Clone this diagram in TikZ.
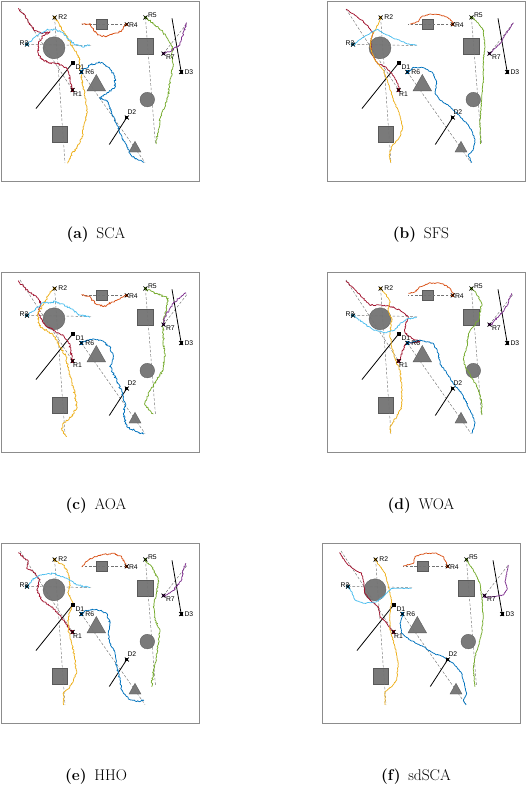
\documentclass[tikz,border=0pt]{standalone}
\usepackage{fontspec}
\newfontfamily\lblfont{Liberation Sans}
\usetikzlibrary{decorations.pathmorphing}
\definecolor{rone}{rgb}{0.635,0.078,0.184}
\definecolor{rtwo}{rgb}{0.929,0.694,0.125}
\definecolor{rthree}{rgb}{0.302,0.745,0.933}
\definecolor{rfour}{rgb}{0.850,0.325,0.098}
\definecolor{rfive}{rgb}{0.466,0.674,0.188}
\definecolor{rsix}{rgb}{0.000,0.447,0.741}
\definecolor{rseven}{rgb}{0.494,0.184,0.556}
\def\wamp{0.6pt}
\tikzset{
  walk/.style={line width=0.75pt, line join=round, decorate, decoration={random steps, segment length=1.1pt, amplitude=\wamp}},
  obst/.style={fill=black!52, draw=black!65, line width=0.35pt},
  refline/.style={black!55, line width=0.45pt, dash pattern=on 2.6pt off 1.8pt},
  dline/.style={black, line width=0.8pt},
  xmark/.style={black, line width=0.7pt},
  lbl/.style={font=\lblfont\fontsize{6.8}{7}\selectfont, inner sep=0pt},
  subcap/.style={font=\fontsize{15.5}{18}\selectfont, anchor=base, inner sep=0pt},
  panelframe/.style={black!45, line width=0.7pt}
}
\newcommand{\taskbase}{%
  \draw[panelframe] (0,0) rectangle (198,180);
  \coordinate (R1) at (71.6,89);
  \coordinate (R2) at (53.6,16.5);
  \coordinate (R3) at (26,43.5);
  \coordinate (R4) at (125.8,23.3);
  \coordinate (R5) at (144.4,16.4);
  \coordinate (R6) at (80.3,71);
  \coordinate (R7) at (162.5,52.6);
  \coordinate (D1) at (71.6,62);
  \coordinate (D2) at (125.8,116.5);
  \coordinate (D3) at (180.2,71);
  \draw[obst] (53,46.8) circle (11);
  \draw[obst] (51,125) rectangle (66.6,140.8);
  \draw[obst] (95.3,73.5) -- (104.6,89.9) -- (86,89.9) -- cycle;
  \draw[obst] (95.35,17.95) rectangle (106.05,28.65);
  \draw[obst] (135.9,36.9) rectangle (151.7,52.7);
  \draw[obst] (146.3,98.6) circle (7.3);
  \draw[obst] (134,140.3) -- (140,151) -- (128,151) -- cycle;
  \draw[refline] (19,8) -- (R1);
  \draw[refline] (R2) -- (64,162);
  \draw[refline] (R3) -- (90,44.5);
  \draw[refline] (R4) -- (81,23.3);
  \draw[refline] (R5) -- (154.5,143);
  \draw[refline] (R6) -- (144,161.5);
  \draw[refline] (R7) -- (186.5,21.7);
  \draw[dline] (D1) -- (35,107.5);
  \draw[dline] (D2) -- (108.3,143.5);
  \draw[dline] (D3) -- (171,17.3);
}
\newcommand{\taskmarks}[1]{%
  \foreach \m/\c in {R1/rone,R2/rtwo,R3/rthree,R4/rfour,R5/rfive,R6/rsix,R7/rseven,D2/black,D3/black}{
    \fill[\c] ([shift={(-1.6,-1.6)}]\m) rectangle ([shift={(1.6,1.6)}]\m);
    \draw[xmark] ([shift={(-2,-2)}]\m) -- ([shift={(2,2)}]\m) ([shift={(-2,2)}]\m) -- ([shift={(2,-2)}]\m);
  }
  \fill ([shift={(-1.9,-1.9)}]D1) rectangle ([shift={(1.9,1.9)}]D1);
  \node[lbl, anchor=west] (#1R1) at (72,93.5) {R1};
  \node[lbl, anchor=west] (#1R2) at (57.2,15.8) {R2};
  \node[lbl, anchor=east] (#1R3) at (27.5,42) {R3};
  \node[lbl, anchor=west] (#1R4) at (127.8,23.8) {R4};
  \node[lbl, anchor=west] (#1R5) at (146.8,13.8) {R5};
  \node[lbl, anchor=west] (#1R6) at (84.2,71.2) {R6};
  \node[lbl, anchor=west] (#1R7) at (164.8,55.8) {R7};
  \node[lbl, anchor=west] (#1D1) at (74.3,66.5) {D1};
  \node[lbl, anchor=west] (#1D2) at (126.3,111.5) {D2};
  \node[lbl, anchor=west] (#1D3) at (183.3,71) {D3};
}
\begin{document}
\begin{tikzpicture}[x=1pt,y=-1pt]
\pgfmathsetseed{11}
\useasboundingbox (0,0) rectangle (527,785);
\begin{scope}[shift={(1,1)}]
  \taskbase
  \def\wamp{0.9pt}
  \begin{scope}[shift={(-1,-1)}, x=0.3333pt, y=-0.3333pt]
    \draw[walk, rone] (55,25) -- (62,35) -- (70,40) -- (78,55) -- (92,75) -- (105,92) -- (125,100) -- (150,96) -- (128,108) -- (116,130) -- (115,160) -- (125,178) -- (150,188) -- (175,192) -- (198,202) -- (206,218) -- (210,242) -- (217,268);
    \draw[walk, rtwo] (163,52) -- (178,75) -- (192,95) -- (205,118) -- (222,148) -- (236,168) -- (240,200) -- (246,240) -- (255,290) -- (262,335) -- (252,375) -- (246,415) -- (232,440) -- (212,468) -- (203,490);
    \draw[walk, rthree] (80,133) -- (98,118) -- (118,100) -- (140,90) -- (165,88) -- (188,98) -- (205,118) -- (222,132) -- (245,140) -- (270,135);
    \draw[walk, rfour] (245,72) -- (272,72) -- (280,90) -- (292,105) -- (320,110) -- (345,100) -- (365,92) -- (380,72);
    \draw[walk, rfive] (436,52) -- (462,72) -- (488,95) -- (502,115) -- (518,140) -- (515,165) -- (520,200) -- (510,240) -- (505,288) -- (495,320) -- (482,350) -- (475,390) -- (468,432);
    \draw[walk, rsix] (243,215) -- (268,196) -- (298,186) -- (328,203) -- (345,230) -- (345,262) -- (300,295) -- (322,302) -- (332,332) -- (350,372) -- (366,410) -- (380,440) -- (396,470) -- (432,487);
    \draw[walk, rseven] (490,160) -- (515,152) -- (540,135) -- (548,108) -- (560,68);
  \end{scope}
  \taskmarks{a}
\end{scope}
\node[subcap] (capa) at (96,238.3) {\textbf{(a)}\hspace{0.5em}SCA};
\begin{scope}[shift={(327,1)}]
  \taskbase
  \def\wamp{0.45pt}
  \begin{scope}[shift={(-7,-1)}, x=0.3333pt, y=-0.3333pt]
    \draw[walk, rone] (78,28) -- (100,42) -- (125,60) -- (145,80) -- (160,100) -- (152,122) -- (155,160) -- (172,190) -- (195,200) -- (215,220) -- (230,245) -- (240,270);
    \draw[walk, rtwo] (185,52) -- (170,80) -- (155,110) -- (150,140) -- (165,180) -- (190,210) -- (205,250) -- (220,300) -- (238,340) -- (248,380) -- (240,410) -- (215,440) -- (208,465) -- (212,488);
    \draw[walk, rthree] (103,133) -- (125,115) -- (150,100) -- (172,88) -- (195,102) -- (215,112) -- (240,122) -- (262,132) -- (290,135);
    \draw[walk, rfour] (270,72) -- (295,65) -- (305,50) -- (330,42) -- (360,45) -- (378,50) -- (388,56) -- (402,70);
    \draw[walk, rfive] (458,52) -- (475,70) -- (490,90) -- (495,140) -- (490,180) -- (490,240) -- (485,300) -- (480,360) -- (480,400) -- (482,432);
    \draw[walk, rsix] (267,216) -- (280,202) -- (310,203) -- (338,218) -- (350,245) -- (345,280) -- (360,300) -- (390,320) -- (420,350) -- (440,370) -- (455,392) -- (465,420) -- (460,450) -- (445,465) -- (455,488);
    \draw[walk, rseven] (512,160) -- (530,140) -- (545,125) -- (555,105) -- (570,85) -- (580,68);
  \end{scope}
  \taskmarks{b}
\end{scope}
\node[subcap] (capb) at (421,238.3) {\textbf{(b)}\hspace{0.5em}SFS};
\begin{scope}[shift={(1,272)}]
  \taskbase
  \def\wamp{1pt}
  \begin{scope}[shift={(-1,-12)}, x=0.3333pt, y=-0.3333pt]
    \draw[walk, rone] (55,62) -- (70,80) -- (90,98) -- (110,110) -- (122,128) -- (116,160) -- (130,190) -- (160,210) -- (190,228) -- (205,245) -- (212,270) -- (217,300);
    \draw[walk, rtwo] (163,85) -- (148,102) -- (135,125) -- (112,165) -- (120,200) -- (160,225) -- (172,245) -- (198,290) -- (205,330) -- (215,362) -- (226,410) -- (230,440) -- (215,470) -- (190,490) -- (185,510) -- (200,530);
    \draw[walk, rthree] (80,168) -- (105,150) -- (125,130) -- (170,125) -- (210,145) -- (240,165) -- (270,172);
    \draw[walk, rfour] (245,103) -- (270,110) -- (285,130) -- (310,140) -- (345,122) -- (365,112) -- (380,105);
    \draw[walk, rfive] (436,88) -- (470,100) -- (505,115) -- (500,140) -- (490,190) -- (490,240) -- (495,280) -- (490,330) -- (470,360) -- (458,382) -- (445,402) -- (435,435) -- (460,462);
    \draw[walk, rsix] (243,250) -- (270,238) -- (300,240) -- (330,260) -- (340,290) -- (330,320) -- (350,360) -- (365,395) -- (376,430) -- (370,460) -- (380,500) -- (410,515) -- (432,522);
    \draw[walk, rseven] (490,195) -- (495,172) -- (510,145) -- (525,126) -- (540,112) -- (558,100);
  \end{scope}
  \taskmarks{c}
\end{scope}
\node[subcap] (capc) at (96,509.6) {\textbf{(c)}\hspace{0.5em}AOA};
\begin{scope}[shift={(327,272)}]
  \taskbase
  \def\wamp{0.7pt}
  \begin{scope}[shift={(-7,-12)}, x=0.3333pt, y=-0.3333pt]
    \draw[walk, rone] (78,62) -- (105,90) -- (130,115) -- (150,135) -- (180,135) -- (215,140) -- (240,150) -- (265,170) -- (255,200) -- (256,220) -- (275,235) -- (300,245) -- (258,250) -- (246,278) -- (240,303);
    \draw[walk, rtwo] (185,88) -- (197,102) -- (210,125) -- (205,150) -- (215,180) -- (210,220) -- (215,260) -- (226,300) -- (240,330) -- (245,380) -- (245,440) -- (230,470) -- (210,500) -- (212,520);
    \draw[walk, rthree] (103,168) -- (130,190) -- (160,210) -- (195,218) -- (225,210) -- (240,190) -- (258,178) -- (290,172);
    \draw[walk, rfour] (265,100) -- (285,96) -- (300,80) -- (330,68) -- (370,72) -- (390,85) -- (402,105);
    \draw[walk, rfive] (458,88) -- (468,98) -- (485,130) -- (476,180) -- (460,200) -- (445,222) -- (440,260) -- (430,300) -- (440,330) -- (460,360) -- (475,390) -- (485,430) -- (485,465);
    \draw[walk, rsix] (267,250) -- (300,240) -- (340,250) -- (355,280) -- (360,310) -- (380,340) -- (400,370) -- (425,400) -- (440,430) -- (455,460) -- (465,490) -- (455,520);
    \draw[walk, rseven] (512,197) -- (522,183) -- (537,168) -- (552,152) -- (562,135) -- (575,100);
  \end{scope}
  \taskmarks{d}
\end{scope}
\node[subcap] (capd) at (421,509.6) {\textbf{(d)}\hspace{0.5em}WOA};
\begin{scope}[shift={(1,543)}]
  \taskbase
  \def\wamp{0.8pt}
  \begin{scope}[shift={(-1,-23)}, x=0.3333pt, y=-0.3333pt]
    \draw[walk, rone] (55,98) -- (75,115) -- (85,125) -- (80,145) -- (100,155) -- (120,180) -- (110,210) -- (125,240) -- (160,265) -- (190,300) -- (210,330) -- (217,337);
    \draw[walk, rtwo] (163,122) -- (190,135) -- (205,160) -- (210,190) -- (205,220) -- (220,250) -- (205,290) -- (205,330) -- (215,370) -- (225,420) -- (230,460) -- (210,500) -- (190,520) -- (190,555);
    \draw[walk, rthree] (80,203) -- (95,180) -- (120,165) -- (160,160) -- (200,175) -- (230,195) -- (270,203);
    \draw[walk, rfour] (245,140) -- (265,120) -- (300,105) -- (340,100) -- (365,110) -- (380,140);
    \draw[walk, rfive] (436,125) -- (455,140) -- (475,180) -- (470,220) -- (460,260) -- (465,300) -- (480,330) -- (475,370) -- (470,410) -- (460,450) -- (455,500);
    \draw[walk, rsix] (243,285) -- (255,272) -- (290,268) -- (320,280) -- (330,310) -- (325,340) -- (330,370) -- (345,400) -- (350,440) -- (360,480) -- (365,510) -- (385,535) -- (410,545) -- (432,540);
    \draw[walk, rseven] (490,230) -- (502,224) -- (518,212) -- (532,198) -- (546,178) -- (550,150) -- (558,130);
  \end{scope}
  \taskmarks{e}
\end{scope}
\node[subcap] (cape) at (96,780.6) {\textbf{(e)}\hspace{0.5em}HHO};
\begin{scope}[shift={(322,543)}]
  \taskbase
  \def\wamp{0.4pt}
  \begin{scope}[shift={(-22,-23)}, x=0.3333pt, y=-0.3333pt]
    \draw[walk, rone] (118,98) -- (140,130) -- (165,150) -- (185,160) -- (190,180) -- (195,220) -- (215,245) -- (235,260) -- (240,290) -- (260,310) -- (282,340);
    \draw[walk, rtwo] (228,122) -- (255,160) -- (265,200) -- (275,240) -- (270,280) -- (270,330) -- (285,380) -- (295,430) -- (290,480) -- (275,500) -- (255,515) -- (255,555);
    \draw[walk, rthree] (145,203) -- (155,215) -- (165,240) -- (190,250) -- (230,245) -- (255,225) -- (275,205) -- (335,205);
    \draw[walk, rfour] (310,138) -- (340,130) -- (345,110) -- (375,100) -- (410,100) -- (430,110) -- (443,138);
    \draw[walk, rfive] (500,122) -- (520,150) -- (540,190) -- (545,230) -- (550,290) -- (545,340) -- (535,380) -- (525,410) -- (520,450) -- (525,500);
    \draw[walk, rsix] (308,287) -- (300,310) -- (305,340) -- (330,360) -- (370,380) -- (400,400) -- (430,410) -- (460,430) -- (485,460) -- (495,500) -- (500,520) -- (490,540) -- (498,555);
    \draw[walk, rseven] (553,232) -- (585,230) -- (610,225) -- (622,205) -- (615,185) -- (620,160) -- (625,135);
  \end{scope}
  \taskmarks{f}
\end{scope}
\node[subcap] (capf) at (416,780.6) {\textbf{(f)}\hspace{0.5em}sdSCA};
\end{tikzpicture}
\end{document}
